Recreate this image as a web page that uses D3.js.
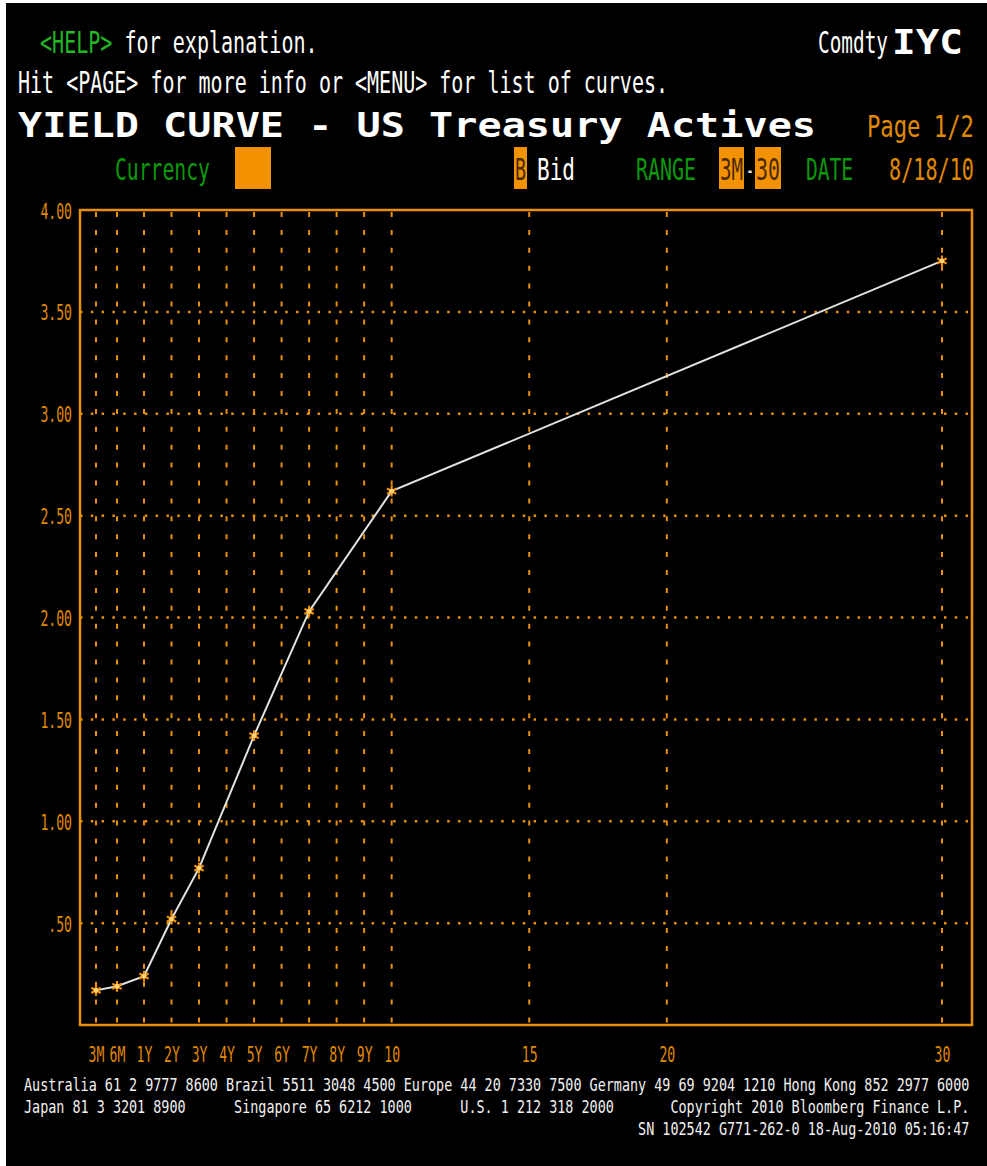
<!DOCTYPE html>
<html><head><meta charset="utf-8">
<script src="https://cdn.jsdelivr.net/npm/d3@7"></script>
<style>
html,body{margin:0;padding:0;background:#000;}
svg{display:block}
text{white-space:pre;}
</style>
</head><body>
<svg id="c" width="987" height="1166"></svg>
<script>
// ---- data ----
const maturities = [0.25, 0.5, 1, 2, 3, 5, 7, 10, 30];
const yields     = [0.17, 0.19, 0.24, 0.52, 0.77, 1.42, 2.03, 2.62, 3.75];
const xTickValues = [0.25, 0.5, 1, 2, 3, 4, 5, 6, 7, 8, 9, 10, 15, 20, 30];
const xTickLabels = ["3M","6M","1Y","2Y","3Y","4Y","5Y","6Y","7Y","8Y","9Y","10","15","20","30"];
const yTickValues = [0.5, 1, 1.5, 2, 2.5, 3, 3.5, 4];
const yTickLabels = [".50","1.00","1.50","2.00","2.50","3.00","3.50","4.00"];
const footerLines = [
  "Australia 61 2 9777 8600 Brazil 5511 3048 4500 Europe 44 20 7330 7500 Germany 49 69 9204 1210 Hong Kong 852 2977 6000",
  "Japan 81 3 3201 8900      Singapore 65 6212 1000      U.S. 1 212 318 2000       Copyright 2010 Bloomberg Finance L.P.",
  "                                                                            SN 102542 G771-262-0 18-Aug-2010 05:16:47"
];

// ---- styles ----
const ORANGE = "#E8900A", BOX = "#F39200", BOXTXT = "#4A2800";
const GREEN = "#0C9A0C", GREEN2 = "#22B822", ORTXT = "#E08A00";
const MONO = "'DejaVu Sans Mono', 'Liberation Mono', monospace";
const ADV = 0.602, CAP = 0.729;

const svg = d3.select("#c");
svg.append("rect").attr("width", 987).attr("height", 1166).attr("fill", "#000");
svg.append("rect").attr("width", 6).attr("height", 1166).attr("fill", "#fff");
svg.append("rect").attr("width", 987).attr("height", 3).attr("fill", "#fff");

// condensed monospace text: font size set from the target width, stretched vertically to cap height
function txt(x, y, s, o) {
  const size = o.w / (s.length * ADV);
  const k = o.cap / (CAP * size);
  return svg.append("text")
    .attr("transform", `translate(${x},${y}) scale(1,${k.toFixed(3)})`)
    .text(s)
    .attr("font-family", MONO).attr("font-size", size.toFixed(2))
    .attr("font-weight", o.bold ? "bold" : "normal")
    .attr("fill", o.fill || "#fff")
    .attr("textLength", o.w).attr("lengthAdjust", "spacingAndGlyphs");
}
function box(x, y, w, h) {
  svg.append("rect").attr("x", x).attr("y", y).attr("width", w).attr("height", h).attr("fill", BOX);
}

// ---- header ----
const cw = 12.07, hc = 22;
txt(40, 53, "<HELP>", {fill: GREEN2, w: 6 * cw, cap: hc});
txt(40 + 7 * cw, 53, "for explanation.", {w: 16 * cw, cap: hc});
txt(818, 53, "Comdty", {w: 70, cap: hc});
txt(892, 54, "IYC", {bold: true, w: 71, cap: 25});
txt(18, 93, "Hit <PAGE> for more info or <MENU> for list of curves.", {w: 650, cap: hc});
txt(18, 137, "YIELD CURVE - US Treasury Actives", {bold: true, w: 798, cap: 25});
txt(867, 137, "Page 1/2", {fill: ORTXT, w: 107, cap: hc});
txt(115, 180, "Currency", {fill: GREEN, w: 95, cap: hc});
box(235, 147, 36, 42);
box(514, 147, 13, 42);
txt(515, 180, "B", {fill: BOXTXT, w: 11, cap: hc});
txt(537, 180, "Bid", {w: 38, cap: hc});
txt(636, 180, "RANGE", {fill: GREEN, w: 60, cap: hc});
box(719, 147, 25, 42);
txt(720, 180, "3M", {fill: BOXTXT, w: 23, cap: hc});
txt(746, 180, "-", {fill: "#ddd", w: 8, cap: hc});
box(755, 147, 26, 42);
txt(756, 180, "30", {fill: BOXTXT, w: 24, cap: hc});
txt(806, 180, "DATE", {fill: GREEN, w: 47, cap: hc});
txt(889, 180, "8/18/10", {fill: ORTXT, w: 85, cap: hc});

// ---- chart ----
const x = d3.scaleLinear().domain([0.25, 0.5, 1, 30]).range([96, 117, 144, 942]);
const y = d3.scaleLinear().domain([0, 4]).range([1025, 210]);
const L = 80, R = 972, T = 210, B = 1025;

// grid
svg.append("g").selectAll("line").data(yTickValues.filter(d => d < 4)).join("line")
  .attr("x1", L).attr("x2", R).attr("y1", d => y(d)).attr("y2", d => y(d))
  .attr("stroke", ORANGE).attr("stroke-width", 2.5).attr("stroke-dasharray", "2.5,8.3");
svg.append("g").selectAll("line").data(xTickValues).join("line")
  .attr("x1", d => x(d)).attr("x2", d => x(d)).attr("y1", T + 2).attr("y2", B)
  .attr("stroke", ORANGE).attr("stroke-width", 2).attr("stroke-dasharray", "5,12.9");

// frame
svg.append("rect").attr("x", L).attr("y", T).attr("width", R - L).attr("height", B - T)
  .attr("fill", "none").attr("stroke", ORANGE).attr("stroke-width", 2.5);

// axes
const ACW = 7.9, ACAP = 16;
const aSize = ACW / ADV, aK = ACAP / (CAP * aSize);
const yAxis = svg.append("g").attr("transform", `translate(${L},0)`)
  .call(d3.axisLeft(y).tickValues(yTickValues).tickFormat((d, i) => yTickLabels[i]).tickSize(0).tickPadding(8));
const xAxis = svg.append("g").attr("transform", `translate(0,${B})`)
  .call(d3.axisBottom(x).tickValues(xTickValues).tickFormat((d, i) => xTickLabels[i]).tickSize(0).tickPadding(21));
[yAxis, xAxis].forEach(a => {
  a.select(".domain").remove();
  a.selectAll("text").attr("font-family", MONO).attr("font-size", aSize.toFixed(2)).attr("fill", ORTXT)
    .attr("textLength", function() { return this.textContent.length * ACW; })
    .attr("lengthAdjust", "spacingAndGlyphs");
});
yAxis.selectAll("text").attr("x", null).attr("y", null).attr("dy", null)
  .attr("transform", `translate(-8,${ACAP / 2}) scale(1,${aK.toFixed(3)})`);
xAxis.selectAll("text").attr("x", null).attr("y", null).attr("dy", null)
  .attr("transform", `translate(0,${21 + ACAP}) scale(1,${aK.toFixed(3)})`);

// line
const pts = maturities.map((m, i) => [m, yields[i]]);
svg.append("path").datum(pts)
  .attr("d", d3.line().x(d => x(d[0])).y(d => y(d[1])))
  .attr("fill", "none").attr("stroke", "#E2E2E2").attr("stroke-width", 2);

// markers
const mk = svg.append("g").selectAll("g").data(pts).join("g")
  .attr("transform", d => `translate(${x(d[0])},${y(d[1])})`);
mk.append("path").attr("d", d3.symbol(d3.symbolAsterisk, 80)())
  .attr("fill", "none").attr("stroke", BOX).attr("stroke-width", 2.2);
mk.append("circle").attr("r", 2.4).attr("fill", "#FFD27A");

// ---- footer ----
footerLines.forEach((s, i) => {
  const lead = s.length - s.trimStart().length;
  const body = s.trimStart();
  txt(24 + lead * 8.08, 1091 + i * 22, body, {fill: "#F2F2F2", w: body.length * 8.08, cap: 13});
});
</script>
</body></html>
